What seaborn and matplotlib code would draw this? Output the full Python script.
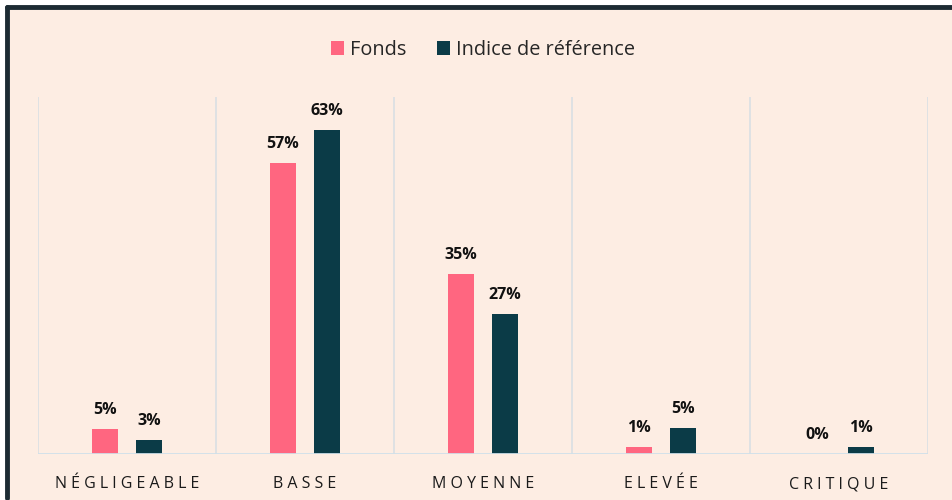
import pandas as pd
import seaborn as sns
import matplotlib.pyplot as plt
from matplotlib.patches import Rectangle

# data
categories = ["NÉGLIGEABLE", "BASSE", "MOYENNE", "ELEVÉE", "CRITIQUE"]
fonds = [4.9, 56.6, 35.0, 1.4, 0.0]
indice = [2.7, 63.0, 27.2, 5.0, 1.4]
series = ["Fonds", "Indice de référence"]

bg = "#FDEDE3"
pink = "#FF6680"
teal = "#0B3B47"

df = pd.DataFrame({
    "cat": categories * 2,
    "val": fonds + indice,
    "serie": [series[0]] * 5 + [series[1]] * 5,
})

sns.set_style("white")
plt.rcParams['font.family'] = ['Open Sans', 'DejaVu Sans']

fig = plt.figure(figsize=(9.53, 5.0), dpi=100)
fig.patch.set_facecolor("white")
# background panel with dark frame on top and left
fig.patches.append(Rectangle((7 / 953, 0), 1, 1 - 7 / 500, transform=fig.transFigure,
                             facecolor=bg, edgecolor="none", zorder=-5))
fig.add_artist(plt.Line2D([7 / 953, 1], [1 - 7 / 500, 1 - 7 / 500], color="#1C2B33",
                          lw=3.5, transform=fig.transFigure, zorder=-4))
fig.add_artist(plt.Line2D([7 / 953, 7 / 953], [0.005, 1 - 7 / 500], color="#1C2B33",
                          lw=3.5, transform=fig.transFigure, zorder=-4))

ax = fig.add_axes([38 / 953, 46 / 500, 890 / 953, 357 / 500])
ax.set_facecolor(bg)
sns.barplot(data=df, x="cat", y="val", hue="serie", palette=[pink, teal],
            saturation=1, linewidth=0, width=0.5, gap=0.42, ax=ax, legend=True)

ax.set_ylim(0, 69.5)
ax.set_xlim(-0.5, 4.5)
ax.set_yticks([])
ax.set_xlabel("")
ax.set_ylabel("")
for s in ax.spines.values():
    s.set_visible(False)
for xv in [-0.5, 0.5, 1.5, 2.5, 3.5, 4.5]:
    ax.axvline(xv, color="#DADFE4", lw=1.2, zorder=0)
ax.axhline(0, color="#CFE0EA", lw=2, zorder=3)

ax.set_xticks(range(5))
ax.set_xticklabels([" ".join(list(c)) for c in categories],
                   fontsize=11.5, color="#1a1a1a")
ax.tick_params(axis="x", length=0, pad=16)

for cont in ax.containers:
    labels = [f"{v:.0f}%" for v in cont.datavalues]
    ax.bar_label(cont, labels=labels, padding=8, fontsize=11.5, fontweight="bold",
                 color="#111111")

leg = ax.legend(loc="upper center", bbox_to_anchor=(0.5, 1.21), ncol=2, frameon=False,
                fontsize=14.3, handlelength=0.7, handleheight=0.7, handletextpad=0.3,
                columnspacing=1.5)

plt.savefig("out.png", dpi=100)
